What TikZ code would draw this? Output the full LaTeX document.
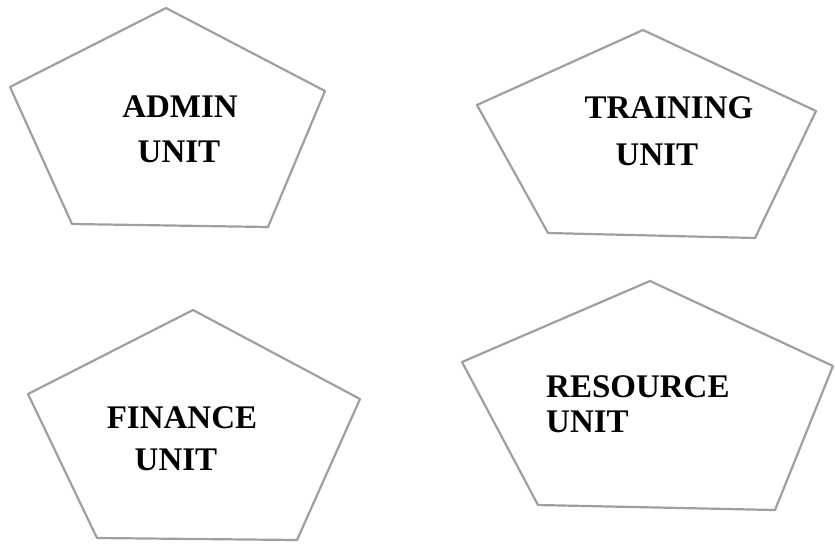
\documentclass[tikz,border=0pt]{standalone}
\usepackage{fontspec}
\setmainfont{Liberation Serif}
\usepackage{tikz}
\usetikzlibrary{positioning}

\begin{document}
\begin{tikzpicture}[x=1pt, y=-1pt,
  unit/.style={draw=gray!75, line width=2.2pt, line join=round},
  lbl/.style={inner sep=0pt, font=\fontsize{33}{40}\selectfont\bfseries}]
% Frame of the page
\useasboundingbox (0,0) rectangle (835,544);

% Admin unit
\coordinate (a1) at (166,8);
\coordinate (a2) at (325,91);
\coordinate (a3) at (268,227);
\coordinate (a4) at (72,224);
\coordinate (a5) at (10,87);
\draw[unit] (a1) -- (a2) -- (a3) -- (a4) -- (a5) -- cycle;
\node[lbl, anchor=base] (adminA) at (180,117) {ADMIN};
\node[lbl, anchor=base] (adminB) at (179,162) {UNIT};

% Training unit
\coordinate (t1) at (643,30);
\coordinate (t2) at (816,111);
\coordinate (t3) at (755,238);
\coordinate (t4) at (548,233);
\coordinate (t5) at (477,105);
\draw[unit] (t1) -- (t2) -- (t3) -- (t4) -- (t5) -- cycle;
\node[lbl, anchor=base] (trainA) at (669,118) {TRAINING};
\node[lbl, anchor=base] (trainB) at (657,165) {UNIT};

% Finance unit
\coordinate (f1) at (193,310);
\coordinate (f2) at (360,399);
\coordinate (f3) at (297,540);
\coordinate (f4) at (97,538);
\coordinate (f5) at (28,394);
\draw[unit] (f1) -- (f2) -- (f3) -- (f4) -- (f5) -- cycle;
\node[lbl, anchor=base] (finA) at (182,428) {FINANCE};
\node[lbl, anchor=base] (finB) at (176,470) {UNIT};

% Resource unit
\coordinate (r1) at (650,281);
\coordinate (r2) at (833,366);
\coordinate (r3) at (775,510);
\coordinate (r4) at (538,505);
\coordinate (r5) at (462,362);
\draw[unit] (r1) -- (r2) -- (r3) -- (r4) -- (r5) -- cycle;
\node[lbl, anchor=base west] (resA) at (546,397) {RESOURCE};
\node[lbl, anchor=base west] (resB) at (546,432) {UNIT};

\end{tikzpicture}
\end{document}
